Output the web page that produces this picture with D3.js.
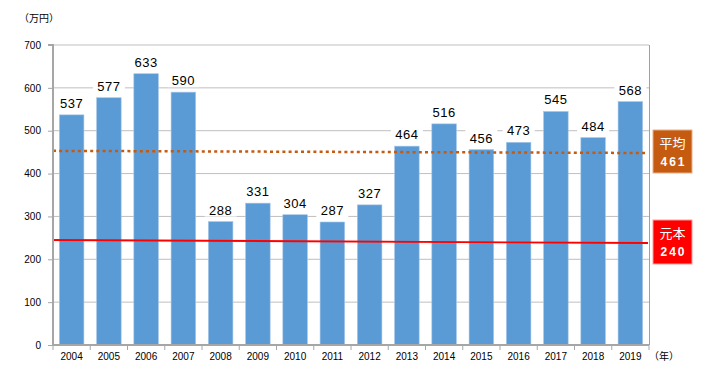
<!DOCTYPE html>
<html><head><meta charset="utf-8">
<script src="https://cdn.jsdelivr.net/npm/d3@7"></script>
<style>body{margin:0;background:#fff;}svg{display:block;font-family:"Liberation Sans",Arial,sans-serif;}</style>
</head><body>
<svg id="c" width="714" height="380"></svg>
<script>
const years = ["2004","2005","2006","2007","2008","2009","2010","2011","2012","2013","2014","2015","2016","2017","2018","2019"];
const values = [537,577,633,590,288,331,304,287,327,464,516,456,473,545,484,568];
const yTicks = [0,100,200,300,400,500,600,700];
const avgLine = [453,448];   // drawn average line (start, end)
const baseLine = [245,238];  // drawn principal line (start, end)
const avgLabel = ["平均","461"];
const baseLabel = ["元本","240"];

const svg = d3.select("#c");
const L=53, R=649, T=45, B=345;
const x = d3.scaleBand().domain(years).range([L,R]).paddingInner(0.34).paddingOuter(0.17);
const y = d3.scaleLinear().domain([0,700]).range([B,T]);

// gridlines
svg.append("g").selectAll("line").data(yTicks.filter(d=>d>0)).join("line")
  .attr("x1",L).attr("x2",R).attr("y1",d=>y(d)).attr("y2",d=>y(d))
  .attr("stroke","#bfbfbf").attr("stroke-width",1);
// right border
svg.append("line").attr("x1",R+0.5).attr("x2",R+0.5).attr("y1",T).attr("y2",B)
  .attr("stroke","#a0a0a0").attr("stroke-width",1);

// bars
svg.append("g").selectAll("rect").data(values).join("rect")
  .attr("x",(d,i)=>x(years[i])).attr("width",x.bandwidth())
  .attr("y",d=>y(d)).attr("height",d=>B-y(d))
  .attr("fill","#5b9bd5").attr("stroke","#a9c8e8").attr("stroke-width",0.6);

// lines
const lx = d3.scaleLinear().domain([0,1]).range([L,R-1]);
const lineGen = d3.line().x((d,i)=>lx(i)).y(d=>y(d));
svg.append("path").attr("d",lineGen(avgLine)).attr("fill","none")
  .attr("stroke","#c55a11").attr("stroke-width",2.5).attr("stroke-dasharray","3,3.2");
svg.append("path").attr("d",lineGen(baseLine)).attr("fill","none")
  .attr("stroke","#ff0000").attr("stroke-width",1.8);

// value labels
const lab = svg.append("g");
values.forEach((v,i)=>{
  const cx = x(years[i])+x.bandwidth()/2;
  lab.append("rect").attr("x",cx-16).attr("y",y(v)-20).attr("width",32).attr("height",15).attr("fill","#fff");
  lab.append("text").attr("x",cx).attr("y",y(v)-7).attr("text-anchor","middle")
    .attr("font-size",13).attr("fill","#000").attr("letter-spacing","0.6").text(v);
});

// y axis
const ya = svg.append("g").attr("transform",`translate(${L},0)`)
  .call(d3.axisLeft(y).tickValues(yTicks).tickSize(5).tickPadding(7).tickFormat(d3.format("d")));
ya.select(".domain").attr("stroke","#a6a6a6").attr("stroke-width",2).attr("d",`M-5,${T}H0V${B}`);
ya.selectAll(".tick line").attr("stroke","#a6a6a6");
ya.selectAll(".tick text").attr("font-size",10).attr("fill","#000").attr("font-family","Liberation Sans, Arial, sans-serif");

// x axis
const xa = svg.append("g").attr("transform",`translate(0,${B})`)
  .call(d3.axisBottom(x).tickSize(0).tickPadding(8));
xa.select(".domain").attr("stroke","#a6a6a6").attr("stroke-width",2).attr("d",`M${L},0H${R}`);
xa.selectAll(".tick text").attr("font-size",10).attr("fill","#000").attr("font-family","Liberation Sans, Arial, sans-serif");
// tick marks between categories
const sep = d3.range(years.length+1).map(i=>L + i*(R-L)/years.length);
svg.append("g").selectAll("line").data(sep).join("line")
  .attr("x1",d=>d).attr("x2",d=>d).attr("y1",B).attr("y2",B+5)
  .attr("stroke","#a6a6a6").attr("stroke-width",1);

// unit labels
svg.append("text").attr("x",19).attr("y",22).attr("font-size",10)
  .attr("font-family","Noto Sans CJK JP").attr("fill","#000").text("（万円）");
svg.append("text").attr("x",649).attr("y",360).attr("font-size",10)
  .attr("font-family","Noto Sans CJK JP").attr("fill","#000").text("（年）");

// side boxes
function box(y0, h, col, lines, stroke){
  const g = svg.append("g");
  g.append("rect").attr("x",653).attr("y",y0).attr("width",39).attr("height",h)
    .attr("fill",col).attr("stroke",stroke).attr("stroke-width",1);
  g.append("text").attr("x",672.5).attr("y",y0+18).attr("text-anchor","middle")
    .attr("font-size",13).attr("font-family","Noto Sans CJK JP").attr("fill","#fff").text(lines[0]);
  g.append("text").attr("x",673.5).attr("y",y0+36).attr("text-anchor","middle")
    .attr("font-size",12).attr("font-weight","bold").attr("letter-spacing","2").attr("fill","#fff").text(lines[1]);
}
box(130,43,"#c55a11",avgLabel,"#e8b08a");
box(220,44,"#ff0000",baseLabel,"#ff9a9a");
</script>
</body></html>
